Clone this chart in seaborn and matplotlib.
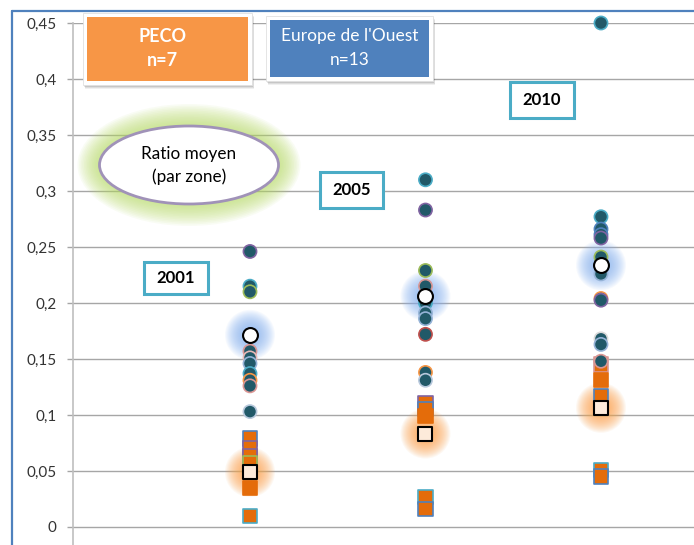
import numpy as np
import pandas as pd

import matplotlib
matplotlib.use("Agg")
import matplotlib.pyplot as plt
import seaborn as sns
from matplotlib.patches import Rectangle, Ellipse
from matplotlib.lines import Line2D

# -----------------------
# Data
# -----------------------
YEARS = ["2001", "2005", "2010"]

# Europe de l'Ouest (circles), one list per year
europe_2001 = [0.246, 0.215, 0.210, 0.157, 0.151, 0.146, 0.137, 0.131, 0.126, 0.103]
europe_2005 = [0.310, 0.283, 0.229, 0.215, 0.200, 0.191, 0.186, 0.172, 0.138, 0.131]
europe_2010 = [0.450, 0.277, 0.266, 0.261, 0.258, 0.241, 0.226, 0.204, 0.2025, 0.168, 0.163, 0.148]
europe_edges_2001 = ["#8064a2", "#4bacc6", "#9bbb59", "#d99694", "#e6b9b8", "#95b3d7", "#4bacc6", "#f79646", "#d99694", "#b7c8dc"]
europe_edges_2005 = ["#4bacc6", "#8064a2", "#9bbb59", "#d99694", "#4bacc6", "#95b3d7", "#95b3d7", "#c0504d", "#f79646", "#b7c8dc"]
europe_edges_2010 = ["#4bacc6", "#4bacc6", "#4f81bd", "#4f81bd", "#8064a2", "#9bbb59", "#95b3d7", "#f79646", "#8064a2", "#d9d9d9", "#95b3d7", "#d99694"]

# PECO (squares)
peco_2001 = [0.079, 0.070, 0.063, 0.057, 0.035, 0.010]
peco_2005 = [0.111, 0.105, 0.099, 0.027, 0.016]
peco_2010 = [0.145, 0.131, 0.117, 0.051, 0.045]
peco_edges_2001 = ["#4f81bd", "#8064a2", "#8064a2", "#9bbb59", "#e46c0a", "#4bacc6"]
peco_edges_2005 = ["#8064a2", "#4f81bd", "#e46c0a", "#4bacc6", "#4f81bd"]
peco_edges_2010 = ["#d99694", "#e46c0a", "#4f81bd", "#4bacc6", "#4f81bd"]

# Ratio moyen (par zone)
europe_mean = [0.1715, 0.2062, 0.2337]
peco_mean = [0.049, 0.0834, 0.1064]

YTICKS = [0, 0.05, 0.1, 0.15, 0.2, 0.25, 0.3, 0.35, 0.4, 0.45]
YTICK_LABELS = ["0", "0,05", "0,1", "0,15", "0,2", "0,25", "0,3", "0,35", "0,4", "0,45"]

# -----------------------
# Build tables
# -----------------------
eu = pd.DataFrame({
    "year": ["2001"] * len(europe_2001) + ["2005"] * len(europe_2005) + ["2010"] * len(europe_2010),
    "ratio": europe_2001 + europe_2005 + europe_2010,
    "edge": europe_edges_2001 + europe_edges_2005 + europe_edges_2010,
})
pe = pd.DataFrame({
    "year": ["2001"] * len(peco_2001) + ["2005"] * len(peco_2005) + ["2010"] * len(peco_2010),
    "ratio": peco_2001 + peco_2005 + peco_2010,
    "edge": peco_edges_2001 + peco_edges_2005 + peco_edges_2010,
})
means_eu = pd.DataFrame({"year": YEARS, "ratio": europe_mean})
means_pe = pd.DataFrame({"year": YEARS, "ratio": peco_mean})

W, H = 694, 545
sns.set_style("white")
plt.rcParams["font.family"] = ["Lato", "DejaVu Sans"]

fig = plt.figure(figsize=(W / 100, H / 100), dpi=100)


def fx(x):
    return x / W


def fy(y):
    return 1 - y / H


# axes placed so that 0 -> y=527 px and 0.45 -> y=23 px
ax = fig.add_axes([fx(73), 0, 1 - fx(73), fy(23)])

# soft glows behind the means (many faint layers -> smooth falloff)
for d in np.linspace(50, 14, 18):
    s = (d * 0.72) ** 2
    sns.scatterplot(data=means_eu, x="year", y="ratio", s=s, color="#86b3f2", alpha=0.07,
                    edgecolor="none", linewidth=0, ax=ax, zorder=2, legend=False)
    sns.scatterplot(data=means_pe, x="year", y="ratio", s=s, color="#fca24a", alpha=0.07,
                    edgecolor="none", linewidth=0, ax=ax, zorder=2, legend=False)

sns.scatterplot(data=pe, x="year", y="ratio", marker="s", s=105, color="#e46c0a",
                edgecolor=pe["edge"].tolist(), linewidth=1.2, ax=ax, zorder=3, legend=False)
sns.scatterplot(data=eu, x="year", y="ratio", marker="o", s=90, color="#215968",
                edgecolor=eu["edge"].tolist(), linewidth=1.2, ax=ax, zorder=4, legend=False,
                clip_on=False)
sns.scatterplot(data=means_pe, x="year", y="ratio", marker="s", s=110, color="#fdeada",
                edgecolor="black", linewidth=1.5, ax=ax, zorder=5, legend=False)
sns.scatterplot(data=means_eu, x="year", y="ratio", marker="o", s=115, color="white",
                edgecolor="black", linewidth=1.5, ax=ax, zorder=5, legend=False)

ax.set_xlim(-1.0085, 2.53)
ax.set_ylim(-0.0161, 0.45)
ax.set_yticks(YTICKS)
ax.set_yticklabels(YTICK_LABELS)
ax.set_xticks([])
ax.set_xlabel("")
ax.set_ylabel("")
ax.yaxis.grid(True, color="#a6a6a6", linewidth=1.0)
ax.set_axisbelow(True)
for side in ["top", "right", "bottom"]:
    ax.spines[side].set_visible(False)
ax.spines["left"].set_color("#bfbfbf")
ax.spines["left"].set_linewidth(1.2)
ax.tick_params(axis="y", length=4, width=1, color="#a6a6a6", pad=8, labelsize=11,
               labelcolor="#333333", left=True)
ax.patch.set_alpha(0)

# outer blue frame
fig.add_artist(Line2D([fx(12), fx(12)], [fy(11), 0], color="#4f81bd", linewidth=1.6))
fig.add_artist(Line2D([fx(12), 1], [fy(11), fy(11)], color="#4f81bd", linewidth=1.6))


def box(x0, y0, x1, y1, face, edge, lw, z=10, alpha=1.0):
    fig.add_artist(Rectangle((fx(x0), fy(y1)), fx(x1 - x0), (y1 - y0) / H,
                             facecolor=face, edgecolor=edge, linewidth=lw, zorder=z,
                             alpha=alpha))


# legend boxes with white frame and soft shadow
for (x0, y0, x1, y1, face) in [(87, 17, 248, 81, "#f79646"), (270, 20, 429, 77, "#4f81bd")]:
    for k, a in [(4, 0.06), (3, 0.08), (2, 0.10)]:
        box(x0 - 4 + k / 2, y0 - 4 + k, x1 + 4 + k / 2, y1 + 4 + k, "#000000", "none", 0,
            z=9, alpha=a)
    box(x0 - 4, y0 - 4, x1 + 4, y1 + 4, "white", "#e0e0e0", 0.6, z=10)
    box(x0, y0, x1, y1, face, "none", 0, z=11)

fig.text(fx(162), fy(36), "PECO", ha="center", va="center", color="white",
         fontsize=13, fontweight="bold", zorder=12)
fig.text(fx(162), fy(60), "n=7", ha="center", va="center", color="white",
         fontsize=13, fontweight="bold", zorder=12)
fig.text(fx(349.5), fy(36), "Europe de l'Ouest", ha="center", va="center",
         color="white", fontsize=12.5, zorder=12)
fig.text(fx(349.5), fy(60), "n=13", ha="center", va="center",
         color="white", fontsize=12.5, zorder=12)

# ellipse with green glow
cx, cy, ew, eh = 189, 165, 179, 78
for k in np.linspace(44, 2, 14):
    fig.add_artist(Ellipse((fx(cx), fy(cy)), fx(ew + k), (eh + k) / H,
                           facecolor="#b8dc64", edgecolor="none", alpha=0.07, zorder=9))
fig.add_artist(Ellipse((fx(cx), fy(cy)), fx(ew), eh / H, facecolor="white",
                       edgecolor="#a092b8", linewidth=2, zorder=10))
fig.text(fx(cx), fy(154), "Ratio moyen", ha="center", va="center",
         color="black", fontsize=12.3, zorder=12)
fig.text(fx(cx), fy(177), "(par zone)", ha="center", va="center",
         color="black", fontsize=12.3, zorder=12)

# year labels
for label, (x0, y0, x1, y1) in zip(YEARS, [(144, 262, 208, 294), (320, 172, 383, 208),
                                           (510, 82, 574, 118)]):
    box(x0, y0, x1, y1, "white", "#4bacc6", 2.2, z=10)
    fig.text(fx((x0 + x1) / 2), fy((y0 + y1) / 2), label, ha="center", va="center",
             color="black", fontsize=12, fontweight="bold", zorder=12)

fig.savefig("out.png", dpi=100)
